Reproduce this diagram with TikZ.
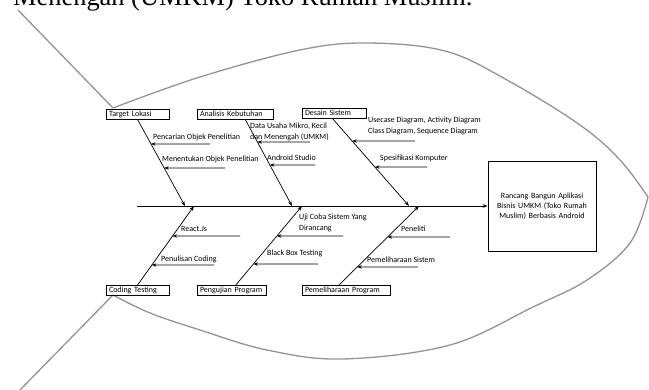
\documentclass[tikz,border=0pt]{standalone}
\usepackage{fontspec}
\setmainfont{Carlito}
\newfontfamily\capfont{Liberation Serif}
\usetikzlibrary{arrows.meta,calc}
\begin{document}
\begin{tikzpicture}[x=1pt,y=-1pt,
  outline/.style={draw=black!42, line width=1.3pt, line join=round},
  bone/.style={draw=black, line width=0.7pt, -{Stealth[length=5pt,width=3.6pt]}},
  subarrow/.style={draw=black, line width=0.7pt, -{Stealth[length=4.5pt,width=3.4pt]}},
  cat/.style={draw=black, line width=0.8pt, inner xsep=3pt, inner ysep=0pt, minimum height=10pt, align=left, font=\fontsize{8}{9}\selectfont},
  lbl/.style={anchor=west, inner sep=0pt, font=\fontsize{8}{11}\selectfont, align=left},
  headbox/.style={draw=black, line width=0.9pt, text width=100pt, minimum width=108pt, minimum height=90pt, align=center, inner sep=0pt, font=\fontsize{8}{10}\selectfont},
]
\useasboundingbox (0,0) rectangle (649,390);
\clip (0,0) rectangle (649,390);

% caption (cut off at top)
\node[anchor=base west, inner sep=0pt, font=\capfont\fontsize{26.4}{30}\selectfont] (cap) at (13,6) {Menengah (UMKM) Toko Rumah Muslim.};

% fish outline
\draw[outline] (18,10) -- (113,108);
\draw[outline] plot[smooth, tension=0.6] coordinates {(113,108) (200,77) (300,50) (367,43) (445,51) (507,80) (580,125) (620,160) (648,197)};
\draw[outline] plot[smooth, tension=0.6] coordinates {(648,197) (630,243) (587,280) (533,307) (450,345) (343,359) (267,350) (200,330) (150,313) (113,295)};
\draw[outline] (113,295) -- (20,390);

% head
\node[headbox] (head) at (542,206) {Rancang Bangun Aplikasi\\Bisnis UMKM (Toko Rumah\\Muslim) Berbasis Android};

% category boxes
\node[cat, text width=57pt] (tl) at (137.5,114) {Target Lokasi};
\node[cat, text width=70pt] (ak) at (235,114) {Analisis Kebutuhan};
\node[cat, text width=58pt] (ds) at (334,113) {Desain Sistem};
\node[cat, text width=57pt] (ct) at (137.5,290.5) {Coding Testing};
\node[cat, text width=63pt] (pp) at (231.5,290.5) {Pengujian Program};
\node[cat, text width=82pt] (pm) at (346,290.5) {Pemeliharaan Program};

% spine
\coordinate (tailpt) at (137,206);
\draw[bone] (tailpt) -- (head);

% bones
\coordinate (b1s) at (tl.south);
\coordinate (b1e) at (185,206);
\coordinate (b2s) at (245,119);
\coordinate (b2e) at (292,206);
\coordinate (b3s) at (332,118);
\coordinate (b3e) at (409,206);
\coordinate (b4s) at (ct.north);
\coordinate (b4e) at (194,206);
\coordinate (b5s) at (235,286);
\coordinate (b5e) at (302,206);
\coordinate (b6s) at (338,286);
\coordinate (b6e) at (419,206);
\foreach \i in {1,...,6} {\draw[bone] (b\i s) -- (b\i e);}

% sub-cause arrows: free end, tip on bone
\coordinate (f1) at (210,144);  \coordinate (t1) at (intersection of b1s--b1e and 0,144--10,144);
\coordinate (f2) at (225,168);  \coordinate (t2) at (intersection of b1s--b1e and 0,168--10,168);
\coordinate (f3) at (310,142);  \coordinate (t3) at (intersection of b2s--b2e and 0,142--10,142);
\coordinate (f4) at (315,165);  \coordinate (t4) at (intersection of b2s--b2e and 0,165--10,165);
\coordinate (f5) at (415,141);  \coordinate (t5) at (intersection of b3s--b3e and 0,141--10,141);
\coordinate (f6) at (427,167);  \coordinate (t6) at (intersection of b3s--b3e and 0,167--10,167);
\coordinate (f7) at (240,236);  \coordinate (t7) at (intersection of b4s--b4e and 0,236--10,236);
\coordinate (f8) at (214,265);  \coordinate (t8) at (intersection of b4s--b4e and 0,265--10,265);
\coordinate (f9) at (343,236);  \coordinate (t9) at (intersection of b5s--b5e and 0,236--10,236);
\coordinate (f10) at (318,264); \coordinate (t10) at (intersection of b5s--b5e and 0,264--10,264);
\coordinate (f11) at (450,237); \coordinate (t11) at (intersection of b6s--b6e and 0,237--10,237);
\coordinate (f12) at (418,267); \coordinate (t12) at (intersection of b6s--b6e and 0,267--10,267);
\foreach \i in {1,...,12} {\draw[subarrow] (f\i) -- (t\i);}

% labels
\node[lbl] (l1) at (153,137) {Pencarian Objek Penelitian};
\node[lbl] (l2) at (162,159) {Menentukan Objek Penelitian};
\node[lbl] (l3) at (250,131.5) {Data Usaha Mikro, Kecil\\dan Menengah (UMKM)};
\node[lbl] (l4) at (267,158) {Android Studio};
\node[lbl] (l5) at (368,125.5) {Usecase Diagram, Activity Diagram\\Class Diagram, Sequence Diagram};
\node[lbl] (l6) at (380,158) {Spesifikasi Komputer};
\node[lbl] (l7) at (181,229) {React.Js};
\node[lbl] (l8) at (161,259) {Penulisan Coding};
\node[lbl] (l9) at (299,223) {Uji Coba Sistem Yang\\Dirancang};
\node[lbl] (l10) at (267,253) {Black Box Testing};
\node[lbl] (l11) at (401,229) {Peneliti};
\node[lbl] (l12) at (367,260) {Pemeliharaan Sistem};
\end{tikzpicture}
\end{document}
